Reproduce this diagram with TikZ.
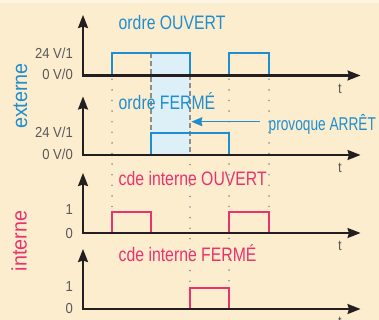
\documentclass[tikz,border=0pt]{standalone}
\usepackage{fontspec}
\setmainfont{Liberation Sans}
\newfontfamily\ttlfont[FakeStretch=0.81]{Liberation Sans}
\newfontfamily\prvfont[FakeStretch=0.74]{Liberation Sans}
\newfontfamily\lblfont[FakeStretch=0.9]{Liberation Sans}
\newfontfamily\sidefont[FakeStretch=0.94]{Liberation Sans}
\usetikzlibrary{arrows.meta}
\definecolor{bgcol}{HTML}{FDEDCF}
\definecolor{bgtop}{HTML}{FEF4E2}
\definecolor{bluec}{HTML}{1E8ECF}
\definecolor{pinkc}{HTML}{E8336E}
\definecolor{shadec}{HTML}{DDF0F8}
\definecolor{axcol}{HTML}{231F20}
\definecolor{graytxt}{HTML}{595959}
\definecolor{dotcol}{HTML}{8E8E8E}
\begin{document}
\begin{tikzpicture}[x=1pt,y=-1pt,
  axis/.style={line width=2.1pt, draw=axcol, line join=miter,
    {Stealth[length=13pt,width=10pt,inset=1.5pt]}-{Stealth[length=13pt,width=10pt,inset=1.5pt]}},
  bluepulse/.style={line width=2pt, draw=bluec, line join=miter},
  pinkpulse/.style={line width=2pt, draw=pinkc, line join=miter},
  dashline/.style={line width=1.3pt, draw=dotcol, dash pattern=on 5pt off 3pt},
  dotline/.style={line width=1.8pt, draw=dotcol, line cap=round, dash pattern=on 0pt off 10.6pt},
  ttl/.style={inner sep=0pt, anchor=base west, font=\ttlfont\fontsize{19.5}{22}\selectfont},
  lbl/.style={inner sep=0pt, anchor=base east, text=graytxt, font=\lblfont\fontsize{14.5}{17}\selectfont},
  tlbl/.style={inner sep=0pt, anchor=base, text=graytxt, font=\lblfont\fontsize{14.5}{17}\selectfont},
  side/.style={inner sep=0pt, anchor=base, rotate=90, font=\sidefont\fontsize{21}{24}\selectfont}]
\useasboundingbox (0,0) rectangle (379,320);
\clip (0,0) rectangle (379,320);
\fill[bgcol] (0,0) rectangle (379,320);
\fill[bgtop] (0,0) rectangle (379,3);
% shaded zone
\fill[shadec] (151,53) rectangle (190,155);
% dashed lines
\draw[dashline] (151,53) -- (151,155);
\draw[dashline] (190,75.5) -- (190,155);
% dotted lines
\draw[dotline] (112,79.3) -- (112,211.5);
\draw[dotline] (229,79.3) -- (229,287.5);
\draw[dotline] (269,79.3) -- (269,211.5);
\draw[dotline] (190,164.6) -- (190,287.5);
% pulses
\draw[bluepulse] (112,75.5) -- (112,53) -- (190,53) -- (190,75.5);
\draw[bluepulse] (229,75.5) -- (229,53) -- (269,53) -- (269,75.5);
\draw[bluepulse] (151,155) -- (151,133.3) -- (229,133.3) -- (229,155);
\draw[pinkpulse] (112,233) -- (112,211.5) -- (151,211.5) -- (151,233);
\draw[pinkpulse] (229,233) -- (229,211.5) -- (269,211.5) -- (269,233);
\draw[pinkpulse] (190,309) -- (190,287.5) -- (229,287.5) -- (229,309);
% axes
\coordinate (o1) at (83,75.5);
\coordinate (o2) at (83,155);
\coordinate (o3) at (83,233);
\coordinate (o4) at (83,309);
\draw[axis] (83,15) -- (o1) -- (360.5,75.5);
\draw[axis] (83,96.5) -- (o2) -- (360.5,155);
\draw[axis] (83,173) -- (o3) -- (360.5,233);
\draw[axis] (83,249) -- (o4) -- (360.5,309);
% t labels
\node[tlbl] (t1) at (340,93.3) {t};
\node[tlbl] (t2) at (340,172.7) {t};
\node[tlbl] (t3) at (340,250.7) {t};
\node[tlbl] (t4) at (340,326.7) {t};
% level labels
\node[lbl] (h1) at (73,58.3) {24 V/1};
\node[lbl] (l1) at (73,80) {0 V/0};
\node[lbl] (h2) at (73,137.3) {24 V/1};
\node[lbl] (l2) at (73,159.3) {0 V/0};
\node[lbl] (h3) at (73,214) {1};
\node[lbl] (l3) at (73,238) {0};
\node[lbl] (h4) at (73,291.7) {1};
\node[lbl] (l4) at (73,313.3) {0};
% titles
\node[ttl, text=bluec] (ti1) at (118.5,30) {ordre OUVERT};
\node[ttl, text=bluec] (ti2) at (118.5,110) {ordre FERMÉ};
\node[ttl, text=pinkc] (ti3) at (118.5,185) {cde interne OUVERT};
\node[ttl, text=pinkc] (ti4) at (118.5,261.5) {cde interne FERMÉ};
\node[inner sep=0pt, anchor=base west, text=bluec, font=\prvfont\fontsize{18.5}{21}\selectfont] (prov) at (268.5,130.5) {provoque ARRÊT};
\coordinate (arrS) at (260,121.7);
\coordinate (arrE) at (191.3,121.7);
\draw[line width=1.6pt, draw=bluec, -{Stealth[length=11pt,width=9pt,inset=1pt]}] (arrS) -- (arrE);
% side labels
\node[side, text=bluec] (ext) at (27,96) {externe};
\node[side, text=pinkc] (int) at (26.7,241) {interne};
\end{tikzpicture}
\end{document}
